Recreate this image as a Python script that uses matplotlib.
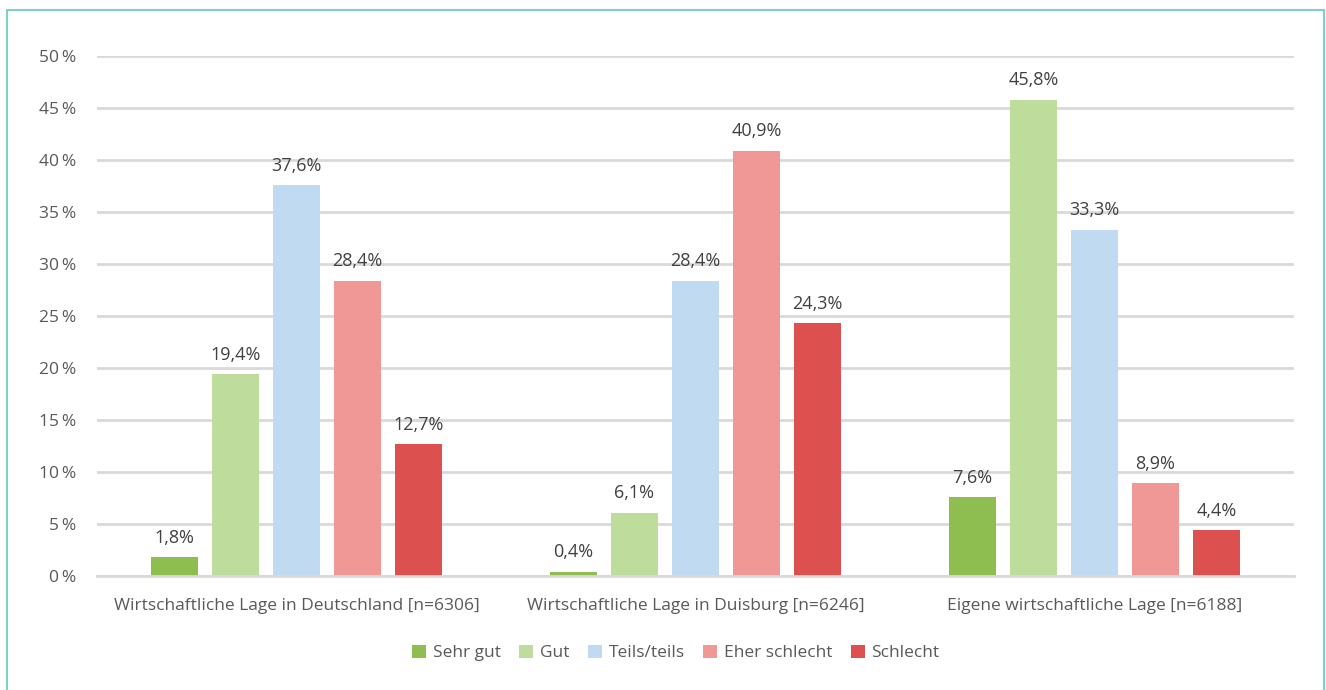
import matplotlib
matplotlib.use("Agg")
import matplotlib.pyplot as plt
from matplotlib.patches import Rectangle
import numpy as np

plt.rcParams['font.family'] = ['Open Sans', 'DejaVu Sans']

categories = [
    "Wirtschaftliche Lage in Deutschland [n=6306]",
    "Wirtschaftliche Lage in Duisburg [n=6246]",
    "Eigene wirtschaftliche Lage [n=6188]",
]
series_names = ["Sehr gut", "Gut", "Teils/teils", "Eher schlecht", "Schlecht"]
sehr_gut = [1.8, 0.4, 7.6]
gut = [19.4, 6.1, 45.8]
teils = [37.6, 28.4, 33.3]
eher_schlecht = [28.4, 40.9, 8.9]
schlecht = [12.7, 24.3, 4.4]
values = [sehr_gut, gut, teils, eher_schlecht, schlecht]
colors = ["#8fbe50", "#bedc9b", "#bfdaf1", "#f09896", "#dc5150"]
yticks = [0, 5, 10, 15, 20, 25, 30, 35, 40, 45, 50]

text_color = "#595959"
fs = 12.5

fig = plt.figure(figsize=(13.26, 6.9), dpi=100)
ax = fig.add_axes([97/1326, 1 - 576/690, (1294-97)/1326, (576-56)/690])

x = np.arange(len(categories))
width = 0.118
step = 0.153
for i, (name, vals, c) in enumerate(zip(series_names, values, colors)):
    pos = x + (i - 2) * step
    bars = ax.bar(pos, vals, width=width, color=c, label=name, zorder=3)
    for b, v in zip(bars, vals):
        ax.text(b.get_x() + b.get_width() / 2, v + 1.0,
                f"{v:.1f}%".replace(".", ","), ha="center", va="bottom",
                fontsize=13, color="#404040")

ax.set_xlim(-0.5, 2.5)
ax.set_ylim(0, 50)
ax.set_yticks(yticks)
ax.set_yticklabels([f"{t}\u2009%" for t in yticks])
ax.yaxis.grid(True, color="#d9d9d9", linewidth=2, zorder=0)
ax.set_axisbelow(True)
for s in ["top", "right", "left"]:
    ax.spines[s].set_visible(False)
ax.spines["bottom"].set_color("#d9d9d9")
ax.spines["bottom"].set_linewidth(2)
ax.spines["bottom"].set_zorder(4)
ax.tick_params(axis="both", length=0, colors=text_color, labelsize=fs)
ax.tick_params(axis="y", pad=15)
ax.tick_params(axis="x", pad=16)
ax.set_xticks(x)
ax.set_xticklabels(categories)

leg = fig.legend(loc="center", bbox_to_anchor=(676/1326, 1 - 653/690), ncol=5,
                 frameon=False, fontsize=fs, handlelength=0.8, handleheight=0.8,
                 handletextpad=0.4, columnspacing=1.05, labelcolor=text_color)

# teal frame around the figure
fig.patches.append(Rectangle((7/1326, -0.05), (1324-7)/1326, 1 - 10/690 + 0.05,
                             transform=fig.transFigure, fill=False,
                             edgecolor="#7fd0c8", linewidth=1.5))

fig.savefig("out.png", dpi=100)
